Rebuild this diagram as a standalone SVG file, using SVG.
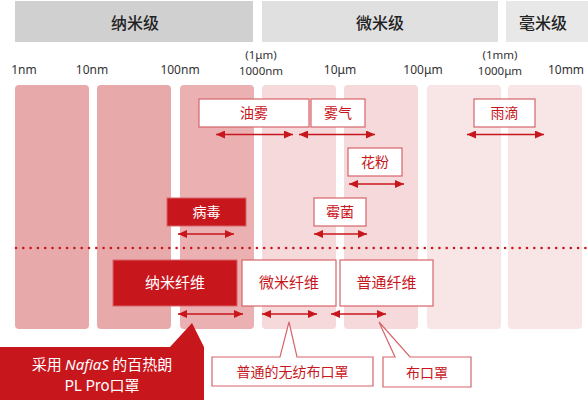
<svg xmlns="http://www.w3.org/2000/svg" width="588" height="400" viewBox="0 0 588 400">
<defs>
<marker id="ah" markerUnits="userSpaceOnUse" markerWidth="9" markerHeight="8" refX="9" refY="4" orient="auto-start-reverse">
<path d="M0,0 L9,4 L0,8 z" fill="#c8161d"/>
</marker>
<style>
.hd{font-family:"Noto Sans CJK SC","Noto Sans",sans-serif;font-size:16px;fill:#222;text-anchor:middle;font-weight:500}
.sc{font-family:"Noto Sans","Noto Sans CJK JP",sans-serif;font-size:12px;fill:#333;text-anchor:middle}
.s2{font-size:11.5px}
.bx{fill:#fff;stroke:#d7646b;stroke-width:1.2}
.rb{fill:#c8161d;stroke:#d7646b;stroke-width:1}
.t{font-family:"Noto Sans CJK SC","Noto Sans",sans-serif;font-size:14px;fill:#c8161d;text-anchor:middle}
.tw{font-family:"Noto Sans CJK SC","Noto Sans",sans-serif;font-size:14px;fill:#fff;text-anchor:middle}
.ar{stroke:#c8161d;stroke-width:1.6;fill:none;marker-start:url(#ah);marker-end:url(#ah)}
.c1{fill:#e8a9ab}
.c2{fill:#eab0b2}
.c3{fill:#f6d9db}
.c4{fill:#f8e5e6}
</style>
</defs>
<g id="headers">
<rect x="15" y="1" width="238" height="41" fill="#d0d0d0"/>
<text class="hd" x="135" y="29">纳米级</text>
<rect x="262" y="1" width="236" height="41" fill="#e0e0e0"/>
<text class="hd" x="380" y="29">微米级</text>
<rect x="506" y="1" width="82" height="41" fill="#e8e8e8"/>
<text class="hd" x="543" y="29">毫米级</text>
</g>
<g id="scale">
<text class="sc" x="24" y="74">1nm</text>
<text class="sc" x="92" y="74">10nm</text>
<text class="sc" x="180" y="74">100nm</text>
<text class="sc s2" x="261" y="59">(1μm)</text>
<text class="sc s2" x="261" y="75">1000nm</text>
<text class="sc" x="340" y="74">10μm</text>
<text class="sc" x="423" y="74">100μm</text>
<text class="sc s2" x="500" y="59">(1mm)</text>
<text class="sc s2" x="500" y="75">1000μm</text>
<text class="sc" x="566" y="74">10mm</text>
</g>
<g id="columns">
<rect class="c1" x="15" y="85" width="74" height="244" rx="4"/>
<rect class="c1" x="97" y="85" width="74" height="244" rx="4"/>
<rect class="c2" x="180" y="85" width="74" height="244" rx="4"/>
<rect class="c3" x="262" y="85" width="74" height="244" rx="4"/>
<rect class="c3" x="344" y="85" width="74" height="244" rx="4"/>
<rect class="c4" x="427" y="85" width="74" height="244" rx="4"/>
<rect class="c4" x="508" y="85" width="74" height="244" rx="4"/>
</g>
<g id="divider">
<line x1="16" y1="248" x2="588" y2="248" stroke="#c8161d" stroke-width="2.6" stroke-linecap="round" stroke-dasharray="0 7.3"/>
</g>
<g id="connectors">
<line class="ar" x1="216" y1="134.5" x2="293" y2="134.5"/>
<line class="ar" x1="299" y1="134.5" x2="375" y2="134.5"/>
<line class="ar" x1="467" y1="134.5" x2="544" y2="134.5"/>
<line class="ar" x1="349" y1="184" x2="404" y2="184"/>
<line class="ar" x1="178" y1="234" x2="234" y2="234"/>
<line class="ar" x1="314" y1="234" x2="367" y2="234"/>
<line class="ar" x1="178" y1="314" x2="243" y2="314"/>
<line class="ar" x1="262" y1="314" x2="317" y2="314"/>
<line class="ar" x1="331" y1="314" x2="386" y2="314"/>
</g>
<g id="n-youwu"><rect class="bx" x="199" y="99" width="110" height="28"/><text class="t" x="254" y="118">油雾</text></g>
<g id="n-wuqi"><rect class="bx" x="311" y="99" width="54" height="28"/><text class="t" x="338" y="118">雾气</text></g>
<g id="n-yudi"><rect class="bx" x="474" y="99" width="61" height="28"/><text class="t" x="504.5" y="118">雨滴</text></g>
<g id="n-huafen"><rect class="bx" x="348" y="148" width="54" height="28"/><text class="t" x="375" y="167">花粉</text></g>
<g id="n-meijun"><rect class="bx" x="314" y="198" width="52" height="28"/><text class="t" x="340" y="217">霉菌</text></g>
<g id="n-bingdu"><rect class="rb" x="167" y="198" width="79" height="28"/><text class="tw" x="206.5" y="217">病毒</text></g>
<g id="n-nano"><rect class="rb" x="113" y="260" width="124" height="46"/><text class="tw" x="175" y="288" style="font-size:15px">纳米纤维</text></g>
<g id="n-micro"><rect class="bx" x="242" y="260" width="94" height="46"/><text class="t" x="289" y="288" style="font-size:15px">微米纤维</text></g>
<g id="n-normal"><rect class="bx" x="340" y="260" width="93" height="46"/><text class="t" x="386.5" y="288" style="font-size:15px">普通纤维</text></g>
<g id="n-nafias">
<path d="M0,347 L170,347 L192,323 L204,347 L204,400 L0,400 z" fill="#c8161d"/>
<text class="tw" x="102" y="370" style="font-size:15px">采用 <tspan font-style="italic" font-family="Noto Sans,sans-serif">NafiaS</tspan> 的百热朗</text>
<text class="tw" x="102" y="391" style="font-size:15px">PL Pro口罩</text>
</g>
<g id="n-nonwoven">
<path d="M212,357 L280,357 L289,322 L297,357 L373,357 L373,386 L212,386 z" class="bx"/>
<text class="t" x="292.5" y="377">普通的无纺布口罩</text>
</g>
<g id="n-cloth">
<path d="M383,357 L395,357 L379,322 L410,357 L471,357 L471,387 L383,387 z" class="bx"/>
<text class="t" x="427" y="378">布口罩</text>
</g>
</svg>
